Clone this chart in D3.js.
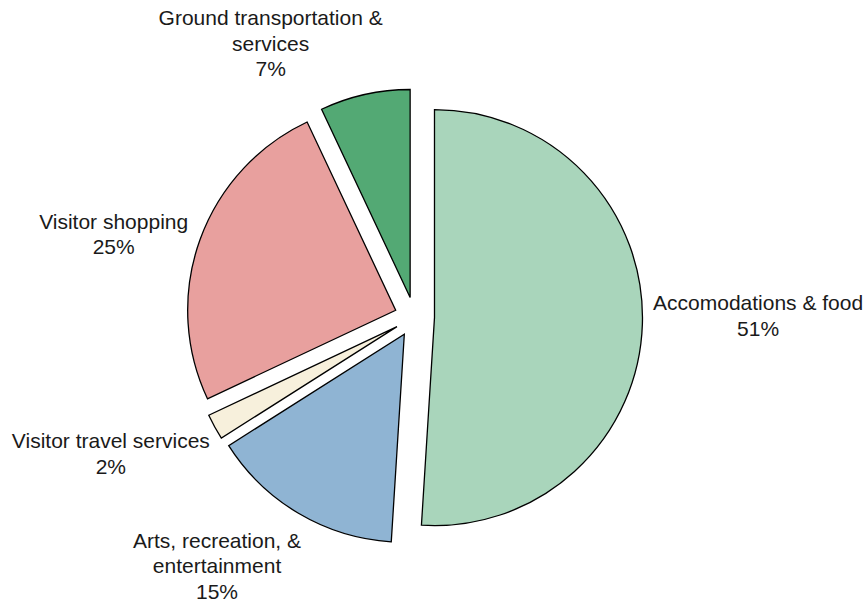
<!DOCTYPE html>
<html>
<head>
<meta charset="utf-8">
<script src="https://cdn.jsdelivr.net/npm/d3@7"></script>
<style>
  html, body { margin: 0; padding: 0; background: #ffffff; }
  svg { display: block; }
  text { font-family: "Liberation Sans", Arial, sans-serif; font-size: 21px; fill: #1a1a1a; }
</style>
</head>
<body>
<svg id="chart" width="867" height="603"></svg>
<script>
// Visitor spending by category (share of total, %)
const categories = [
  "Accomodations & food",
  "Arts, recreation, & entertainment",
  "Visitor travel services",
  "Visitor shopping",
  "Ground transportation & services"
];
const shares = [51, 15, 2, 25, 7];
// Label text, one entry per line
const labelLines = [
  ["Accomodations & food"],
  ["Arts, recreation, &", "entertainment"],
  ["Visitor travel services"],
  ["Visitor shopping"],
  ["Ground transportation &", "services"]
];
const sliceColors = ["#a9d5bb", "#8fb4d3", "#f7f0dc", "#e8a09e", "#53a974"];

// Layout
const width = 867, height = 603;
const cx = 414.5, cy = 317;     // pie centre
const radius = 208;
const explode = 20;             // every slice pushed out from the centre
const labelPad = 5;
const lineHeight = 25.7;
const capHalf = 7.5;
// fine placement of each label box relative to its outside-end spot
const labelNudge = [[5.7, -9.6], [-36.1, 15.1], [-12.7, 12.1], [-11.5, 4.6], [-68.6, -8.8]];

const data = categories.map((c, i) => ({ name: c, value: shares[i], i }));

const pie = d3.pie().sort(null).value(d => d.value).startAngle(0).endAngle(2 * Math.PI);
const arc = d3.arc().innerRadius(0).outerRadius(radius);

const svg = d3.select("#chart");
const g = svg.append("g").attr("transform", `translate(${cx},${cy})`);

const arcs = pie(data);

function dirOf(a) {
  const mid = (a.startAngle + a.endAngle) / 2;
  return [Math.sin(mid), -Math.cos(mid)];
}

g.selectAll("path.slice")
  .data(arcs)
  .join("path")
  .attr("class", "slice")
  .attr("d", arc)
  .attr("transform", a => {
    const [dx, dy] = dirOf(a);
    return `translate(${dx * explode},${dy * explode})`;
  })
  .attr("fill", a => sliceColors[a.data.i])
  .attr("stroke", "#000")
  .attr("stroke-width", 1.3)
  .attr("stroke-linejoin", "miter");

// Labels: name lines plus the percentage
const labels = g.selectAll("text.label")
  .data(arcs)
  .join("text")
  .attr("class", "label")
  .attr("text-anchor", "middle");

labels.each(function (a) {
  const lines = labelLines[a.data.i].concat([a.data.value + "%"]);
  const t = d3.select(this);
  const n = lines.length;
  lines.forEach((ln, k) => {
    t.append("tspan")
      .attr("x", 0)
      .attr("y", (k - (n - 1) / 2) * lineHeight + capHalf)
      .text(ln);
  });
  // size of the block
  let w = 0;
  t.selectAll("tspan").each(function () { w = Math.max(w, this.getComputedTextLength()); });
  const h = n * lineHeight;
  const [dx, dy] = dirOf(a);
  const r = radius + labelPad + explode;
  const nudge = labelNudge[a.data.i];
  const x = dx * r + dx * w / 2 + nudge[0];
  const y = dy * r + dy * h / 2 + nudge[1];
  t.attr("transform", `translate(${x},${y})`);
});
</script>
</body>
</html>
